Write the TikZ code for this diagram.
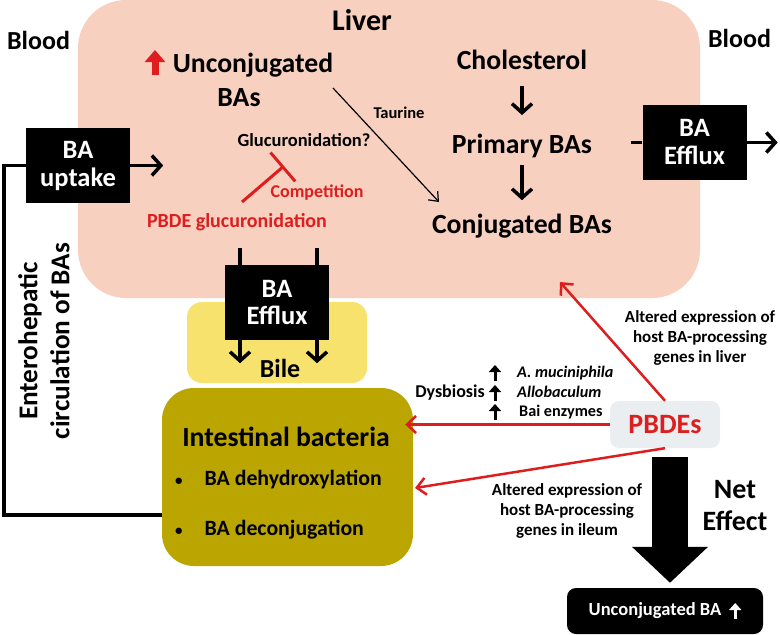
\documentclass[tikz,border=0pt]{standalone}
\usepackage{fontspec}
\setmainfont{Carlito}
\usetikzlibrary{arrows.meta,
                positioning}
\definecolor{liverpink}{RGB}{248,208,192}
\definecolor{bileyellow}{RGB}{246,226,108}
\definecolor{gutolive}{RGB}{187,165,0}
\definecolor{pbdegray}{RGB}{234,238,240}
\definecolor{pbdered}{RGB}{222,30,30}
\tikzset{
        organ/.style={rounded corners=#1, inner sep=0pt},
        organ/.default=20pt,
        blk/.style={fill=black, text=white, align=center, inner sep=0pt,
                    minimum width=104pt, minimum height=75pt,
                    font=\fontsize{26.5}{28}\selectfont\bfseries},
        big/.style={inner sep=0pt, align=center,
                    font=\fontsize{27.7}{32}\selectfont\bfseries},
        mid/.style={inner sep=0pt, align=center,
                    font=\fontsize{20}{23}\selectfont\bfseries},
        small/.style={inner sep=0pt, align=center,
                      font=\fontsize{17}{20}\selectfont\bfseries},
        tiny/.style={inner sep=0pt, align=left,
                     font=\fontsize{16.2}{19}\selectfont\bfseries},
        myarrow/.style={-{Straight Barb[length=9pt,width=20pt]}, line width=3.5pt},
        thinarrow/.style={-{Straight Barb[length=8pt,width=13pt]}, line width=1.2pt},
        redarrow/.style={-{Straight Barb[length=9pt,width=17pt]}, line width=2.5pt, pbdered},
        inhibit/.style={-{Bar[width=38pt]}, line width=3pt, pbdered},
        bigup/.style={-{Triangle[length=12pt,width=20pt]}, line width=7pt},
        smallup/.style={-{Triangle[length=7pt,width=12pt]}, line width=3pt},
 }

\begin{document}
\begin{tikzpicture}[x=1pt, y=-1pt]
    \useasboundingbox (0,0) rectangle (780,635);

    % organs
    \node[organ=48pt, fill=liverpink, minimum width=622pt, minimum height=298pt] (liver) at (389,149) {};
    \node[organ=15pt, fill=bileyellow, minimum width=180pt, minimum height=81pt] (bile) at (277,342.5) {};
    \node[organ=32pt, fill=gutolive, minimum width=251pt, minimum height=178pt] (intest) at (287.5,477) {};
    \node[organ=9pt, fill=pbdegray, minimum width=110pt, minimum height=47pt,
          text=pbdered, font=\fontsize{28}{32}\selectfont\bfseries] (pbdes) at (665,424.5) {PBDEs};
    \node[organ=9pt, fill=black, minimum width=196pt, minimum height=46pt, text=white,
          font=\fontsize{18.5}{20}\selectfont\bfseries] (netbox) at (665,611) {Unconjugated BA\rule{20pt}{0pt}};

    % transporters
    \node[blk] (uptake) at (78,165.5) {BA\\uptake};
    \node[blk] (effluxr) at (694.5,142.5) {BA\\Efflux};
    \node[blk] (effluxb) at (277,302.5) {BA\\Efflux};

    % labels
    \node[big, font=\fontsize{26}{32}\selectfont\bfseries] (bloodl) at (38.5,40) {Blood};
    \node[big, font=\fontsize{26}{32}\selectfont\bfseries] (bloodr) at (739.5,38) {Blood};
    \node[big, font=\fontsize{30}{32}\selectfont\bfseries] (liverlbl) at (362,20) {Liver};
    \node[big, font=\fontsize{27.7}{34}\selectfont\bfseries] (unconj) at (239,80) {\hspace*{28pt}Unconjugated\\BAs};
    \node[small, font=\fontsize{16.5}{17}\selectfont\bfseries] (taurine) at (399,113) {Taurine};
    \node[big] (chol) at (522,60) {Cholesterol};
    \node[big, below=64pt of chol] (prim) {Primary BAs};
    \node[big, below=56pt of prim] (conj) {Conjugated BAs};
    \node[small, font=\fontsize{18.5}{20}\selectfont\bfseries] (glucq) at (304,140) {Glucuronidation?};
    \node[small, text=pbdered, font=\fontsize{18}{20}\selectfont\bfseries] (compet) at (317,193) {Competition};
    \node[mid, text=pbdered] (pbdeglu) at (237,222) {PBDE glucuronidation};
    \node[big, font=\fontsize{26}{32}\selectfont\bfseries] (bilelbl) at (280,368) {Bile};
    \node[big] (intestlbl) at (286,437) {Intestinal bacteria};
    \node[inner sep=0pt, align=left, anchor=west, font=\fontsize{21.8}{26}\selectfont\bfseries]
         (intestlist) at (175,505) {{\fontsize{15}{15}\selectfont\textbullet}\hspace{22pt}BA dehydroxylation\\[24pt]{\fontsize{15}{15}\selectfont\textbullet}\hspace{22pt}BA deconjugation};
    \node[big, font=\fontsize{27.2}{32}\selectfont\bfseries, rotate=90] (entero) at (44,341) {Enterohepatic\\circulation of BAs};
    \node[small] (livgenes) at (700,338) {Altered expression of\\host BA-processing\\genes in liver};
    \node[small, font=\fontsize{18}{20}\selectfont\bfseries] (dysb) at (450,393) {Dysbiosis};
    \node[tiny, anchor=west] (muc) at (517,373) {\itshape A. muciniphila};
    \node[tiny, anchor=west] (allob) at (517,392) {\itshape Allobaculum};
    \node[tiny, anchor=west] (bai) at (519,412) {Bai enzymes};
    \node[small] (ilgenes) at (567,511) {Altered expression of\\host BA-processing\\genes in ileum};
    \node[big, font=\fontsize{28}{32}\selectfont\bfseries] (net) at (735,506) {Net\\Effect};

    % free ends
    \coordinate (taustart) at (333,88);
    \coordinate (tautip) at (439,202);
    \coordinate (inhstart) at (242,202);
    \coordinate (inhbar) at (284,166);
    \coordinate (livtip) at (560,282);
    \coordinate (ileumtip) at (415,488);

    % liver pathway
    \draw[myarrow, shorten <=16pt, shorten >=19pt] (chol) -- (prim);
    \draw[myarrow, shorten <=7pt, shorten >=14pt] (prim) -- (conj);
    \draw[thinarrow] (taustart) -- (tautip);
    \draw[inhibit] (inhstart) -- (inhbar);
    \draw[bigup, pbdered] (155,75) -- (155,50);

    % transport
    \draw[myarrow] (uptake.east) -- ++(33,0);
    \draw[line width=3.5pt] (effluxr.west) -- ++(-11,0);
    \draw[myarrow] (effluxr.east) -- ++(31,0);
    \draw[line width=3.5pt] ([xshift=-37pt]effluxb.north) -- ++(0,-17);
    \draw[line width=3.5pt] ([xshift=40pt]effluxb.north) -- ++(0,-17);
    \draw[myarrow] ([xshift=-37pt]effluxb.south) -- ++(0,23);
    \draw[myarrow] ([xshift=40pt]effluxb.south) -- ++(0,23);
    \draw[line width=3.5pt] (uptake.west) -- ++(-22,0) |- ([yshift=-38pt]intest.west);

    % PBDE effects
    \draw[line width=36pt, -{Triangle[length=36pt,width=74pt]}, shorten <=9pt, shorten >=5pt]
         ([xshift=5pt]pbdes.south) -- ([xshift=5pt]netbox.north);
    \draw[redarrow] (pbdes.north) -- (livtip);
    \draw[redarrow] (pbdes.west) -- ([xshift=-8pt]pbdes.west -| intest.east);
    \draw[redarrow] (pbdes.south) -- (ileumtip);
    \foreach \y in {373,393,412}
        \draw[smallup] (495,\y+8) -- (495,\y-8);
    \draw[smallup, white] ([xshift=-28pt, yshift=-8pt]netbox.east) -- ++(0,-16);

\end{tikzpicture}
\end{document}
